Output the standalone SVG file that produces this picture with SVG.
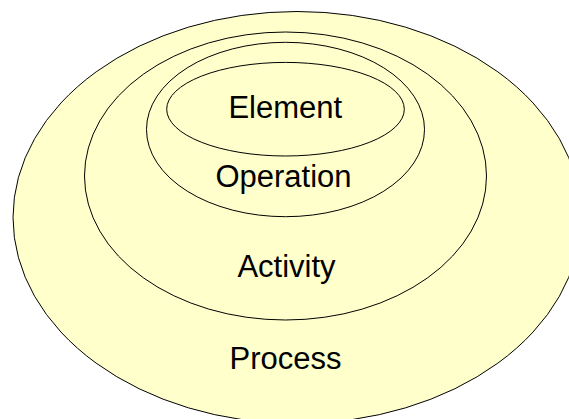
<svg xmlns="http://www.w3.org/2000/svg" width="569" height="419" viewBox="0 0 569 419">
  <style>
    .ring { fill: #FFFFCC; stroke: #000000; stroke-width: 1; }
    .label { font-family: "Liberation Sans", Arial, sans-serif; font-size: 31px; fill: #000000; text-anchor: middle; }
  </style>
  <rect width="569" height="419" fill="#FFFFFF"/>
  <g id="process">
    <ellipse class="ring" cx="297" cy="217.5" rx="284" ry="206"/>
    <text class="label" x="285.5" y="369">Process</text>
  </g>
  <g id="activity">
    <ellipse class="ring" cx="285.5" cy="176" rx="201" ry="144"/>
    <text class="label" x="286.5" y="277">Activity</text>
  </g>
  <g id="operation">
    <ellipse class="ring" cx="285.5" cy="129.5" rx="139" ry="87.2"/>
    <text class="label" x="283.5" y="186.5">Operation</text>
  </g>
  <g id="element">
    <ellipse class="ring" cx="285.5" cy="109.2" rx="118.8" ry="46.8"/>
    <text class="label" x="285.3" y="117.7">Element</text>
  </g>
  <g id="connectors"/>
</svg>
